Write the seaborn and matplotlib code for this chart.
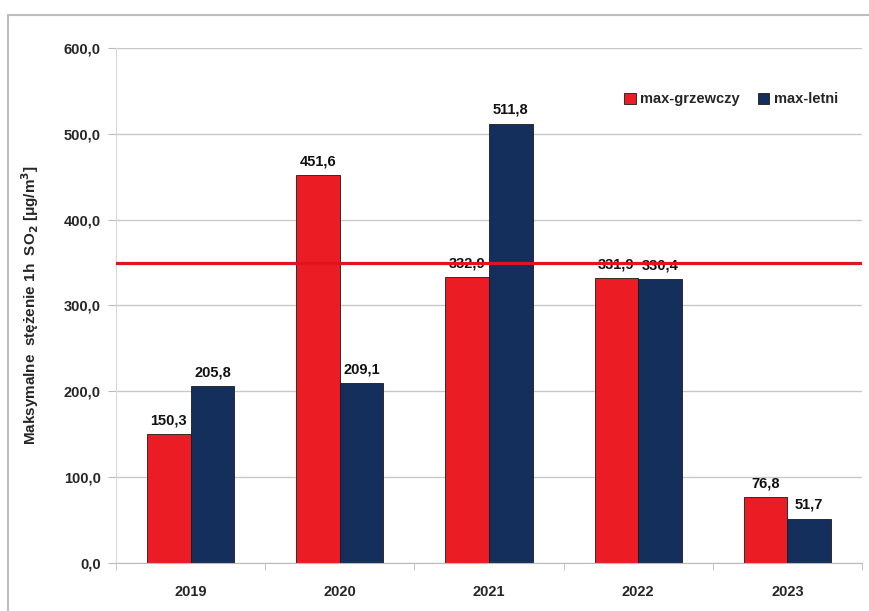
import pandas as pd
import matplotlib
matplotlib.use('Agg')
import matplotlib.pyplot as plt
import seaborn as sns
from matplotlib.patches import Rectangle

years = ['2019', '2020', '2021', '2022', '2023']
max_grzewczy = [150.3, 451.6, 332.9, 331.9, 76.8]
max_letni = [205.8, 209.1, 511.8, 330.4, 51.7]
limit = 350.0
series_names = ['max-grzewczy', 'max-letni']
yticks = [0, 100, 200, 300, 400, 500, 600]

df = pd.DataFrame({
    'rok': years * 2,
    'wartosc': max_grzewczy + max_letni,
    'seria': [series_names[0]] * 5 + [series_names[1]] * 5,
})

sns.set_style('white')
plt.rcParams['font.family'] = ['Liberation Sans', 'DejaVu Sans']
plt.rcParams['font.weight'] = 'bold'

fig = plt.figure(figsize=(8.7, 6.11), dpi=100)
ax = fig.add_axes([0.1333, 0.0786, 0.8575, 0.843])
fig.patches.append(Rectangle((0.009, -0.1), 1.1, 1.075, transform=fig.transFigure,
                             fill=False, edgecolor='#bdbdbd', linewidth=1.5))

sns.barplot(data=df, x='rok', y='wartosc', hue='seria', ax=ax,
            palette=['#ec1c24', '#142f5c'], width=0.585, saturation=1,
            edgecolor='#1a1a1a', linewidth=0.6)

for cont in ax.containers:
    ax.bar_label(cont, labels=[f'{v:.1f}'.replace('.', ',') for v in cont.datavalues],
                 padding=5, fontsize=10.5, fontweight='bold', color='#111111')

ax.axhline(limit, color='#e0141c', linewidth=2.3, zorder=5)

ax.set_ylim(0, 600)
ax.set_xlim(-0.5, 4.5)
ax.set_yticks(yticks)
ax.set_yticklabels([f'{v:.1f}'.replace('.', ',') for v in yticks], fontsize=10.5, fontweight='bold')
ax.tick_params(axis='y', left=True, length=6, color='#bbbbbb', pad=5)
ax.tick_params(axis='x', labelsize=10.5, pad=12, bottom=False)
ax.set_xticks([-0.5, 0.5, 1.5, 2.5, 3.5, 4.5], minor=True)
ax.tick_params(axis='x', which='minor', bottom=True, length=5, color='#bbbbbb')
ax.yaxis.grid(True, color='#c8c8c8', linewidth=1)
ax.set_axisbelow(True)
for s in ['top', 'right']:
    ax.spines[s].set_visible(False)
ax.spines['left'].set_color('#d8d8d8')
ax.spines['bottom'].set_color('#bbbbbb')
ax.set_xlabel('')
ax.set_ylabel('Maksymalne  stężenie 1h  SO$_2$ [μg/m$^3$]', fontsize=11, fontweight='bold', labelpad=16)

ax.legend(loc='center right', bbox_to_anchor=(0.985, 0.9), ncol=2, frameon=False,
          fontsize=10.5, handlelength=0.8, handleheight=0.8, columnspacing=1.2, handletextpad=0.3)

plt.savefig('out.png', dpi=100)
